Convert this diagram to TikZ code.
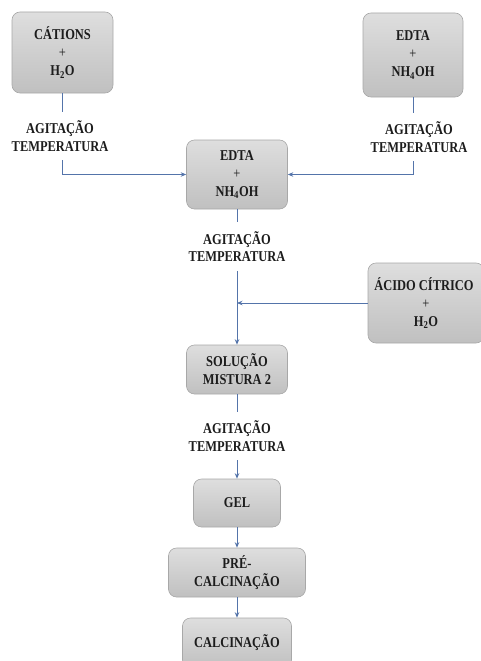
\documentclass[tikz,border=0pt]{standalone}
\usepackage{fontspec}
\setmainfont{Liberation Serif}[FakeStretch=0.83]
\usetikzlibrary{arrows.meta}
\definecolor{boxtop}{RGB}{222,222,222}
\definecolor{boxbot}{RGB}{192,192,192}
\definecolor{boxline}{RGB}{168,168,168}
\definecolor{flow}{RGB}{84,116,170}
\definecolor{ink}{RGB}{28,28,28}
\tikzset{
  stage/.style={rounded corners=8pt, draw=boxline, line width=0.6pt,
    top color=boxtop, bottom color=boxbot, text=ink, align=center,
    font=\fontsize{15}{18}\selectfont\bfseries, inner sep=0pt},
  cond/.style={align=center, text=ink, inner xsep=0pt, inner ysep=9pt,
    font=\fontsize{15}{17.5}\selectfont\bfseries},
  link/.style={draw=flow, line width=0.8pt},
  flowarrow/.style={link, -{Stealth[length=5.5pt,width=4.5pt]}},
}
\newcommand{\plus}{{\mdseries +}}
\begin{document}
\begin{tikzpicture}[x=1pt,y=-1pt]
\useasboundingbox (0,0) rectangle (481,661);

% raw materials
\node[stage, minimum width=101pt, minimum height=81pt] (cat) at (62.5,52.5)
  {CÁTIONS\\\plus\\H\textsubscript{2}O};
\node[stage, minimum width=100pt, minimum height=84pt] (edtaR) at (413,55)
  {EDTA\\\plus\\NH\textsubscript{4}OH};
\node[stage, minimum width=101pt, minimum height=69pt] (edtaC) at (237,174.5)
  {EDTA\\\plus\\NH\textsubscript{4}OH};
\node[stage, minimum width=116pt, minimum height=80pt] (acid) at (426,303)
  {\hspace*{-4pt}ÁCIDO CÍTRICO\\\plus\\H\textsubscript{2}O};

% process chain
\node[stage, minimum width=101pt, minimum height=49pt] (sol) at (237,369.5)
  {SOLUÇÃO\\MISTURA 2};
\node[stage, minimum width=87pt, minimum height=48pt] (gel) at (237,503) {GEL};
\node[stage, minimum width=137pt, minimum height=49pt] (pre) at (237,572.5)
  {PRÉ-\\CALCINAÇÃO};
\node[stage, minimum width=109pt, minimum height=50pt] (calc) at (237,643)
  {CALCINAÇÃO};

% process conditions
\node[cond] (c1) at (60,136) {AGITAÇÃO\\TEMPERATURA};
\node[cond] (c2) at (419,137) {AGITAÇÃO\\TEMPERATURA};
\node[cond] (c3) at (237,246.5) {AGITAÇÃO\\TEMPERATURA};
\node[cond] (c4) at (237,436) {AGITAÇÃO\\TEMPERATURA};

% connectors
\draw[link] (cat.south) -- (cat.south |- c1.north);
\draw[flowarrow] (cat.south |- c1.south) |- (edtaC.west);
\draw[link] (edtaR.south) -- (edtaR.south |- c2.north);
\draw[flowarrow] (edtaR.south |- c2.south) |- (edtaC.east);
\draw[link] (edtaC.south) -- (c3.north);
\draw[flowarrow] (c3.south) -- (sol.north);
\draw[flowarrow] (acid.west) -- (acid.west -| c3.south);
\draw[link] (sol.south) -- (c4.north);
\draw[flowarrow] (c4.south) -- (gel.north);
\draw[flowarrow] (gel.south) -- (pre.north);
\draw[flowarrow] (pre.south) -- (calc.north);
\end{tikzpicture}
\end{document}
